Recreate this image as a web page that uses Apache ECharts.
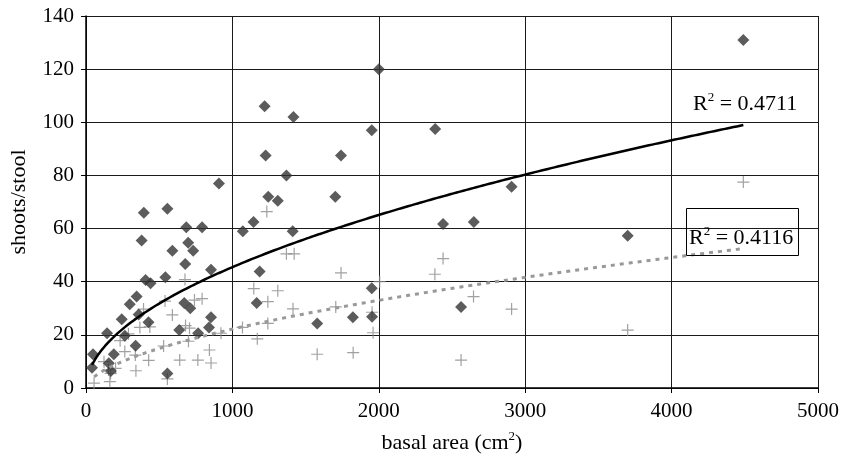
<!DOCTYPE html>
<html>
<head>
<meta charset="utf-8">
<script src="https://cdn.jsdelivr.net/npm/echarts@6/dist/echarts.min.js"></script>
<style>
html,body{margin:0;padding:0;background:#fff;}
#chart{width:842px;height:465px;}
</style>
</head>
<body>
<div id="chart"></div>
<script>
// basal area (cm2), shoots/stool — diamond series
const diamondX = [2000,4490,1220,1417,1227,1742,1952,2385,1369,908,1412,1245,1310,1703,1144,1071,556,395,793,685,380,698,732,590,678,854,1186,407,441,542,346,299,671,712,1166,360,244,427,854,840,637,766,144,265,339,48,190,156,41,170,556,1579,1823,1952,1954,2439,2649,2907,3700,2562];
const diamondY = [120,131,106,102,87.5,87.5,97,97.5,80,77,59,72,70.5,72,62.5,59,67.5,66,60.5,60.5,55.5,54.7,51.7,51.7,46.7,44.5,43.8,40.6,39.4,41.7,34.4,31.5,32,30,32,27.7,25.9,24.7,26.6,22.8,21.8,20.6,20.6,19.7,15.9,12.7,12.7,9.3,7.6,6.4,5.5,24.3,26.6,37.5,26.8,61.7,62.5,75.7,57.3,30.5];
// plus series
const plusX = [4490,3700,2439,2647,2907,2562,2383,2006,1954,1961,1825,1579,1706,1742,1369,1422,1310,1414,1242,1242,1235,1146,1170,1069,922,843,854,764,640,700,680,707,741,793,676,590,540,530,436,393,368,290,233,265,337,341,428,556,55,163,168,154,123,202];
const plusY = [77.5,21.8,48.7,34.4,29.7,10.5,42.8,40,28.5,20.8,13.3,12.7,30.5,43.3,50.5,50.5,36.6,29.8,32.5,24.3,66.4,37.4,18.5,22.8,20.6,14.3,9.4,10.5,10.5,17.6,23.5,22.5,33.1,33.6,40.8,27.5,32.7,15.8,23,29.7,22.8,20.4,17.8,13.7,12.4,6.5,10.4,3.4,1.8,2.4,5.5,6.8,9.9,7.4];
const xTicks = [0,1000,2000,3000,4000,5000];
const yTicks = [0,20,40,60,80,100,120,140];
const r2Labels = ['0.4711','0.4116'];

// power trend line (least squares on logs, as a spreadsheet power trendline)
function powerFit(xs, ys){
  let n=0,sx=0,sy=0,sxx=0,sxy=0;
  for(let i=0;i<xs.length;i++){
    if(xs[i]>0 && ys[i]>0){
      const lx=Math.log(xs[i]), ly=Math.log(ys[i]);
      n++; sx+=lx; sy+=ly; sxx+=lx*lx; sxy+=lx*ly;
    }
  }
  const b=(n*sxy-sx*sy)/(n*sxx-sx*sx);
  const a=Math.exp((sy-b*sx)/n);
  const xmin=Math.min(...xs), xmax=Math.max(...xs);
  const pts=[];
  const N=200;
  for(let k=0;k<=N;k++){
    const x=xmin+(xmax-xmin)*k/N;
    pts.push([x,a*Math.pow(x,b)]);
  }
  return pts;
}
const zip=(xs,ys)=>xs.map((x,i)=>[x,ys[i]]);

const FONT='"Liberation Serif","Times New Roman",serif';
const plusPath='path://M4.5,0H5.5V4.5H10V5.5H5.5V10H4.5V5.5H0V4.5H4.5Z';

const chart=echarts.init(document.getElementById('chart'),null,{renderer:'canvas'});
const rich={
  r:{fontFamily:FONT,fontSize:22,fontWeight:'normal',color:'#000',lineHeight:26},
  s:{fontFamily:FONT,fontSize:13,fontWeight:'normal',color:'#000',lineHeight:13,verticalAlign:'top'}
};
chart.setOption({
  animation:false,
  backgroundColor:'#fff',
  grid:{left:84,right:21,top:16,bottom:77,containLabel:false},
  title:[
    {text:'{r|R}{s|2}{r| = '+r2Labels[0]+'}',left:693,top:91,padding:0,
     textStyle:{fontWeight:'normal',rich:rich}},
    {text:'{r|R}{s|2}{r| = '+r2Labels[1]+'}',left:686,top:208,padding:[17,5,7,3],
     borderColor:'#000',borderWidth:1,
     textStyle:{fontWeight:'normal',rich:rich}}
  ],
  xAxis:{
    type:'value',min:xTicks[0],max:xTicks[xTicks.length-1],interval:1000,
    name:'{a|basal area (cm}{s|2}{a|)}',nameLocation:'middle',nameGap:42,
    nameTextStyle:{rich:{a:{fontFamily:FONT,fontSize:22,color:'#000',lineHeight:26},s:{fontFamily:FONT,fontSize:13,color:'#000',lineHeight:13,verticalAlign:'top'}}},
    axisLine:{show:true,lineStyle:{color:'#000',width:1.5}},
    axisTick:{show:true,length:5,lineStyle:{color:'#000'}},
    splitLine:{show:true,lineStyle:{color:'#1a1a1a',width:1}},
    axisLabel:{fontFamily:FONT,fontSize:21,color:'#000',margin:13,formatter:v=>String(v)}
  },
  yAxis:{
    type:'value',min:yTicks[0],max:yTicks[yTicks.length-1],interval:20,
    name:'shoots/stool',nameLocation:'middle',nameGap:56,nameRotate:90,
    nameTextStyle:{fontFamily:FONT,fontSize:22,color:'#000'},
    axisLine:{show:true,lineStyle:{color:'#000',width:1.5}},
    axisTick:{show:true,length:5,lineStyle:{color:'#000'}},
    splitLine:{show:true,lineStyle:{color:'#1a1a1a',width:1}},
    axisLabel:{fontFamily:FONT,fontSize:21,color:'#000',margin:12,formatter:v=>String(v)}
  },
  series:[
    {type:'scatter',data:zip(plusX,plusY),symbol:plusPath,symbolSize:12,
     itemStyle:{color:'#8a8a8a'},z:2},
    {type:'scatter',data:zip(diamondX,diamondY),symbol:'diamond',symbolSize:[12,12],
     itemStyle:{color:'#333'},z:3},
    {type:'line',data:powerFit(plusX,plusY),showSymbol:false,smooth:false,
     lineStyle:{color:'#999',width:3,type:[4,5],cap:'butt'},z:4},
    {type:'line',data:powerFit(diamondX,diamondY),showSymbol:false,smooth:false,
     lineStyle:{color:'#000',width:2.5},z:5}
  ]
});
</script>
</body>
</html>
